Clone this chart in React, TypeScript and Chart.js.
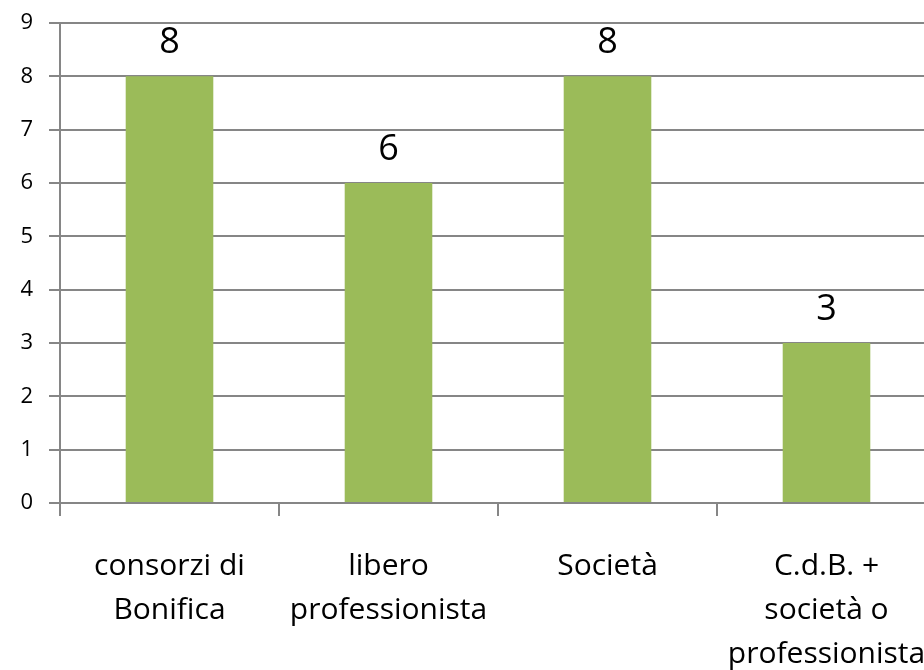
import React, { useEffect, useRef } from "react";
import { Chart, registerables } from "chart.js";

Chart.register(...registerables);

const categories: string[][] = [
  ["consorzi di", "Bonifica"],
  ["libero", "professionista"],
  ["Società"],
  ["C.d.B. +", "società o", "professionista"],
];
const values: number[] = [8, 6, 8, 3];
const yTicks: number[] = [0, 1, 2, 3, 4, 5, 6, 7, 8, 9];

const GRID = "#868686";
const BAR = "#9BBB59";
const FONT = "'Open Sans', 'DejaVu Sans', sans-serif";

const dataLabels = {
  id: "dataLabels",
  afterDatasetsDraw(chart: any) {
    const ctx = chart.ctx;
    const meta = chart.getDatasetMeta(0);
    ctx.save();
    ctx.font = `36px ${FONT}`;
    ctx.fillStyle = "#000";
    ctx.textAlign = "center";
    ctx.textBaseline = "alphabetic";
    meta.data.forEach((bar: any, i: number) => {
      ctx.fillText(String(values[i]), bar.x, bar.y - 23);
    });
    ctx.restore();
  },
};

export default function App() {
  const ref = useRef<HTMLCanvasElement | null>(null);
  useEffect(() => {
    if (!ref.current) return;
    const chart = new Chart(ref.current, {
      type: "bar",
      data: {
        labels: categories,
        datasets: [
          {
            data: values,
            backgroundColor: BAR,
            borderWidth: 0,
            barPercentage: 0.4,
            categoryPercentage: 1,
          },
        ],
      },
      options: {
        animation: false,
        responsive: false,
        layout: { padding: { top: 23, right: 4, left: 0, bottom: 0 } },
        plugins: {
          legend: { display: false },
          tooltip: { enabled: false },
        },
        scales: {
          x: {
            offset: true,
            grid: {
              offset: true,
              drawOnChartArea: false,
              color: GRID,
              lineWidth: 2,
              tickLength: 13,
            },
            border: { display: true, color: GRID, width: 2 },
            ticks: {
              autoSkip: false,
              maxRotation: 0,
              minRotation: 0,
              padding: 28,
              color: "#000",
              font: { family: FONT, size: 30, lineHeight: 1.47 },
            },
            afterFit: (scale: any) => {
              scale.height = 167;
              scale.paddingLeft = 0;
              scale.paddingRight = 0;
            },
          },
          y: {
            min: 0,
            max: 9,
            afterBuildTicks: (scale: any) => {
              scale.ticks = yTicks.map((v) => ({ value: v }));
            },
            grid: {
              color: GRID,
              lineWidth: 2,
              tickLength: 11,
            },
            border: { display: true, color: GRID, width: 2 },
            ticks: {
              padding: 16,
              color: "#000",
              font: { family: FONT, size: 22 },
            },
            afterFit: (scale: any) => {
              scale.width = 60;
              scale.paddingTop = 0;
              scale.paddingBottom = 0;
            },
          },
        },
      },
      plugins: [dataLabels],
    });
    return () => chart.destroy();
  }, []);
  return (
    <div
      style={{
        position: "fixed",
        left: 0,
        top: 0,
        width: 924,
        height: 670,
        overflow: "hidden",
        background: "#fff",
      }}
    >
      <canvas ref={ref} width={940} height={670} style={{ display: "block" }} />
    </div>
  );
}
